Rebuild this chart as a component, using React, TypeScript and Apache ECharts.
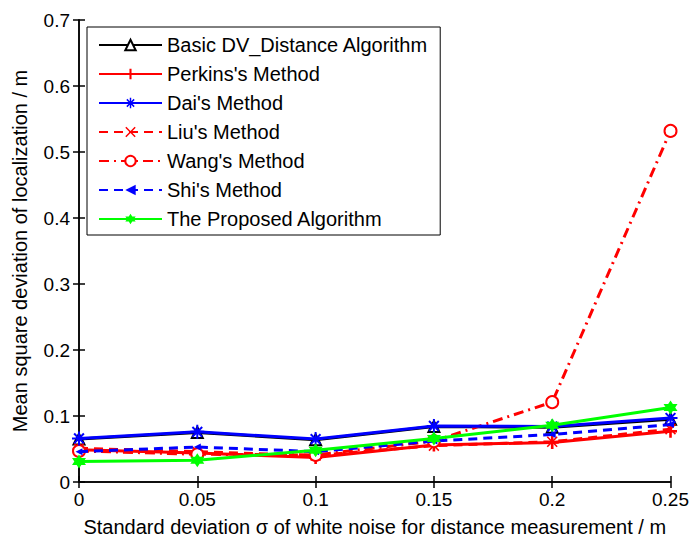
import React, { useEffect, useRef } from "react";
import * as echarts from "echarts";

const xValues = [0, 0.05, 0.1, 0.15, 0.2, 0.25];
const basicDV = [0.065, 0.075, 0.064, 0.084, 0.083, 0.095];
const perkins = [0.049, 0.044, 0.037, 0.056, 0.06, 0.077];
const dai = [0.066, 0.076, 0.065, 0.085, 0.084, 0.097];
const liu = [0.051, 0.046, 0.04, 0.055, 0.061, 0.08];
const wang = [0.047, 0.042, 0.041, 0.062, 0.121, 0.532];
const shi = [0.046, 0.053, 0.046, 0.062, 0.072, 0.087];
const proposed = [0.031, 0.033, 0.048, 0.066, 0.086, 0.113];

const seriesNames = [
  "Basic DV_Distance Algorithm",
  "Perkins's Method",
  "Dai's Method",
  "Liu's Method",
  "Wang's Method",
  "Shi's Method",
  "The Proposed Algorithm",
];

const plusPath = "path://M4,0H6V4H10V6H6V10H4V6H0V4H4Z";
const xPath = "path://M0,1L1,0L5,4L9,0L10,1L6,5L10,9L9,10L5,6L1,10L0,9L4,5Z";
const asteriskPath =
  "path://M4.3,0H5.7V4.3H10V5.7H5.7V10H4.3V5.7H0V4.3H4.3Z M1,2L2,1L5,4L8,1L9,2L6,5L9,8L8,9L5,6L2,9L1,8L4,5Z";
const hexagramPath =
  "path://M5,0L6.44,2.5L9.33,2.5L7.89,5L9.33,7.5L6.44,7.5L5,10L3.56,7.5L0.67,7.5L2.11,5L0.67,2.5L3.56,2.5Z";
const dotPath = "path://M0,5L10,0L10,10Z";

export default function App() {
  const ref = useRef<HTMLDivElement>(null);
  useEffect(() => {
    document.body.style.margin = "0";
    const chart = echarts.init(ref.current!, null, { renderer: "svg" });
    const font = "Liberation Sans, Arial, sans-serif";
    const mk = (name: string, data: number[], color: string, symbol: string, size: number, type: any, fill?: string, z = 2) => ({
      name,
      type: "line",
      data: xValues.map((x, i) => [x, data[i]]),
      symbol,
      symbolSize: size,
      showSymbol: true,
      z,
      lineStyle: { color, width: 3, type },
      itemStyle: { color: fill ?? color, borderColor: color, borderWidth: fill ? 2 : 0 },
      emphasis: { disabled: true },
    });
    const series = [
      mk(seriesNames[0], basicDV, "#000000", "triangle", 11, "solid", "#ffffff", 2),
      mk(seriesNames[1], perkins, "#ff0000", plusPath, 13, "solid", undefined, 3),
      mk(seriesNames[2], dai, "#0000ff", asteriskPath, 14, "solid", undefined, 4),
      mk(seriesNames[3], liu, "#ff0000", xPath, 11, [9, 6], undefined, 3),
      mk(seriesNames[4], wang, "#ff0000", "circle", 12, [10, 5, 2, 5], "#ffffff", 3),
      mk(seriesNames[5], shi, "#0000ff", dotPath, 7, [9, 6], undefined, 4),
      mk(seriesNames[6], proposed, "#00ff00", hexagramPath, 14, "solid", undefined, 5),
    ];
    chart.setOption({
      animation: false,
      backgroundColor: "#ffffff",
      textStyle: { fontFamily: font },
      grid: { left: 79, right: 17, top: 20, bottom: 56, show: false },
      legend: {
        orient: "vertical",
        left: 87,
        top: 27,
        data: seriesNames,
        itemWidth: 63,
        itemHeight: 13,
        itemGap: 9,
        padding: [8, 12, 6, 11],
        backgroundColor: "#ffffff",
        borderColor: "#000000",
        borderWidth: 1,
        borderRadius: 0,
        textStyle: { fontSize: 20, color: "#000000", fontFamily: font },
        selectedMode: false,
      },
      xAxis: [
        {
          type: "value",
          min: 0,
          max: 0.25,
          interval: 0.05,
          name: "Standard deviation \u03c3 of white noise for distance measurement / m",
          nameLocation: "middle",
          nameGap: 35,
          nameTextStyle: { fontSize: 20, color: "#000", fontFamily: font },
          axisLine: { lineStyle: { color: "#000", width: 1.5 } },
          axisTick: { inside: true, length: 6, lineStyle: { color: "#000", width: 1.5 } },
          axisLabel: { fontSize: 19, color: "#000", margin: 8, fontFamily: font },
          splitLine: { show: false },
        },
        {
          type: "value",
          position: "top",
          min: 0,
          max: 0.25,
          interval: 0.05,
          axisLine: { lineStyle: { color: "#000", width: 1.5 } },
          axisTick: { inside: true, length: 6, lineStyle: { color: "#000", width: 1.5 } },
          axisLabel: { show: false },
          splitLine: { show: false },
        },
      ],
      yAxis: [
        {
          type: "value",
          min: 0,
          max: 0.7,
          interval: 0.1,
          name: "Mean square deviation of localization / m",
          nameLocation: "middle",
          nameGap: 49,
          nameTextStyle: { fontSize: 20, color: "#000", fontFamily: font },
          axisLine: { show: true, lineStyle: { color: "#000", width: 1.5 } },
          axisTick: { show: true, inside: true, length: 6, lineStyle: { color: "#000", width: 1.5 } },
          axisLabel: { fontSize: 19, color: "#000", margin: 9, fontFamily: font },
          splitLine: { show: false },
        },
        {
          type: "value",
          position: "right",
          min: 0,
          max: 0.7,
          interval: 0.1,
          axisLine: { show: true, lineStyle: { color: "#000", width: 1.5 } },
          axisTick: { show: true, inside: true, length: 6, lineStyle: { color: "#000", width: 1.5 } },
          axisLabel: { show: false },
          splitLine: { show: false },
        },
      ],
      series,
    });
    return () => chart.dispose();
  }, []);
  return <div ref={ref} style={{ width: 692, height: 542, position: "absolute", left: 0, top: 0 }} />;
}
